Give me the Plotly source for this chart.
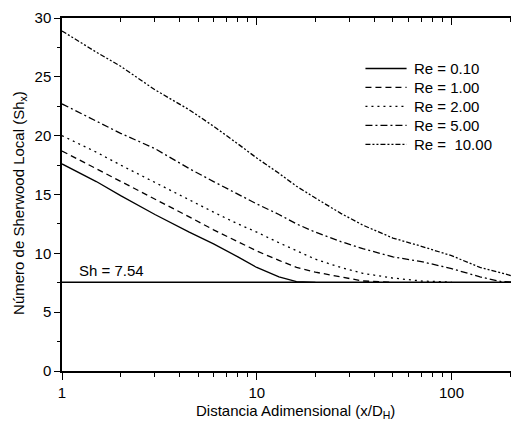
import math
import plotly.graph_objects as go

# ---- data ----
x_pts = [1, 1.5, 2, 3, 4.5, 6, 8, 10, 13, 16, 20, 27, 35, 50, 70, 100, 140, 180, 220]

re_010 = [17.6, 16.1, 14.9, 13.3, 11.8, 10.8, 9.7, 8.8, 8.0, 7.6, 7.54]
re_100 = [18.7, 17.2, 16.1, 14.6, 13.1, 12.0, 11.0, 10.2, 9.4, 8.8, 8.4, 8.0, 7.65, 7.54]
re_200 = [20.0, 18.6, 17.5, 16.0, 14.5, 13.5, 12.5, 11.8, 10.9, 10.2, 9.5, 8.8, 8.3, 7.9, 7.65, 7.55]
re_500 = [22.7, 21.2, 20.2, 18.9, 17.2, 16.1, 15.0, 14.2, 13.3, 12.5, 11.8, 11.0, 10.4, 9.7, 9.3, 8.7, 8.0, 7.6, 7.54]
re_1000 = [28.9, 27.1, 25.9, 23.9, 22.2, 20.8, 19.3, 18.1, 16.8, 15.7, 14.7, 13.4, 12.4, 11.3, 10.6, 9.8, 8.8, 8.3, 7.95]

series_names = ["Re = 0.10", "Re = 1.00", "Re = 2.00", "Re = 5.00", "Re =\u00a0\u00a010.00"]
series_values = [re_010, re_100, re_200, re_500, re_1000]
series_dash = ["solid", "6px,4px", "2px,4px", "7px,3px,2px,3px", "5px,2px,2px,2px,2px,2px"]

SH_LIMIT = 7.54
SH_LABEL = "Sh = 7.54"

x_ticks_major = [1, 10, 100]
x_ticks_minor = [2, 3, 4, 5, 6, 7, 8, 9, 20, 30, 40, 50, 60, 70, 80, 90, 200]
X_MAX = 222

X_TITLE = "Distancia Adimensional (x/D<sub>H</sub>)"
Y_TITLE = "Número de Sherwood Local (Sh<sub>x</sub>)"

FONT = "Arial, Liberation Sans, sans-serif"
BLACK = "black"

fig = go.Figure()
for name, ys, dash in zip(series_names, series_values, series_dash):
    fig.add_trace(go.Scatter(
        x=x_pts[:len(ys)], y=ys, mode="lines", name=name, showlegend=False,
        line=dict(color=BLACK, width=1.3, dash=dash),
    ))

# empty trace so the top (mirror) axis is drawn
fig.add_trace(go.Scatter(x=[], y=[], xaxis="x2", showlegend=False))

# Sh limit line + label
fig.add_shape(type="line", xref="x domain", x0=0, x1=1, yref="y",
              y0=SH_LIMIT, y1=SH_LIMIT, line=dict(color=BLACK, width=1.5))
fig.add_annotation(x=math.log10(1.2), y=SH_LIMIT, xref="x", yref="y",
                   text=SH_LABEL, showarrow=False, xanchor="left",
                   yanchor="bottom", yshift=1,
                   font=dict(family=FONT, size=15, color=BLACK))

# legend drawn in paper coordinates
LEG_X0, LEG_X1, LEG_TX = 0.664, 0.754, 0.765
LEG_Y_TOP, LEG_STEP = 0.857, 0.0538
for i, (name, dash) in enumerate(zip(series_names, series_dash)):
    yy = LEG_Y_TOP - i * LEG_STEP
    fig.add_shape(type="line", xref="paper", yref="paper",
                  x0=LEG_X0, x1=LEG_X1, y0=yy, y1=yy,
                  line=dict(color=BLACK, width=1.3, dash=dash))
    fig.add_annotation(xref="paper", yref="paper", x=LEG_TX, y=yy,
                       text=name, showarrow=False, xanchor="left",
                       yanchor="middle",
                       font=dict(family=FONT, size=15, color=BLACK))

# axis titles as annotations (placed as in the reference)
fig.add_annotation(xref="paper", yref="paper", x=0.511, y=-0.116,
                   text=X_TITLE, showarrow=False, xanchor="center",
                   yanchor="middle", font=dict(family=FONT, size=15, color=BLACK))
fig.add_annotation(xref="paper", yref="paper", x=-0.092, y=0.476,
                   text=Y_TITLE, showarrow=False, textangle=-90,
                   xanchor="center", yanchor="middle",
                   font=dict(family=FONT, size=15, color=BLACK))

axis_common = dict(showgrid=False, zeroline=False, showline=True,
                   linecolor=BLACK, linewidth=1.5, automargin=False)

# the page body has an 8px margin, so the figure is 8px smaller and
# the left/top margins are reduced accordingly
fig.update_layout(
    width=511, height=415,
    margin=dict(l=54, r=0, t=10, b=52),
    paper_bgcolor="white", plot_bgcolor="white",
    font=dict(family=FONT, size=15, color=BLACK),
    showlegend=False,
    xaxis=dict(
        type="log", range=[0, math.log10(X_MAX)],
        tickvals=x_ticks_major, ticktext=[str(v) for v in x_ticks_major],
        ticks="outside", ticklen=7, tickwidth=1.3, tickcolor=BLACK,
        minor=dict(tickvals=x_ticks_minor, ticks="outside", ticklen=4,
                   tickwidth=1.3, tickcolor=BLACK, showgrid=False),
        **axis_common,
    ),
    xaxis2=dict(
        type="log", overlaying="x", side="top", matches="x",
        range=[0, math.log10(X_MAX)],
        tickvals=x_ticks_major, showticklabels=False,
        ticks="inside", ticklen=7, tickwidth=1.3, tickcolor=BLACK,
        minor=dict(tickvals=x_ticks_minor, ticks="inside", ticklen=4,
                   tickwidth=1.3, tickcolor=BLACK, showgrid=False),
        **axis_common,
    ),
    yaxis=dict(
        range=[0, 30], dtick=5, tick0=0,
        ticks="outside", ticklen=6, tickwidth=1.3, tickcolor=BLACK,
        minor=dict(dtick=2.5, ticks="outside", ticklen=3, tickwidth=1.3,
                   tickcolor=BLACK, showgrid=False),
        **axis_common,
    ),
)

fig.write_html("out.html")
